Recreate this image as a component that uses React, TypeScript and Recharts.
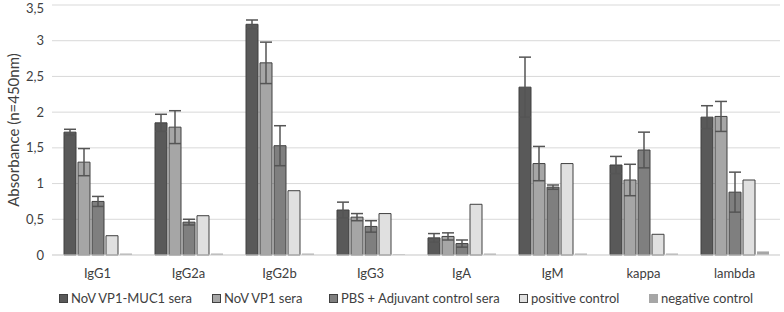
import { BarChart, Bar, XAxis, YAxis, CartesianGrid, Legend, ErrorBar } from 'recharts'

// ── Data ────────────────────────────────────────────────────
const categories = ['IgG1', 'IgG2a', 'IgG2b', 'IgG3', 'IgA', 'IgM', 'kappa', 'lambda']

const mucSera = [1.72, 1.85, 3.23, 0.63, 0.24, 2.35, 1.26, 1.93]
const mucSeraErr = [0.04, 0.12, 0.06, 0.11, 0.06, 0.42, 0.12, 0.16]

const vp1Sera = [1.30, 1.79, 2.69, 0.53, 0.26, 1.28, 1.05, 1.94]
const vp1SeraErr = [0.19, 0.23, 0.29, 0.05, 0.05, 0.24, 0.22, 0.21]

const pbsSera = [0.75, 0.46, 1.53, 0.40, 0.16, 0.95, 1.47, 0.88]
const pbsSeraErr = [0.07, 0.04, 0.28, 0.08, 0.05, 0.03, 0.25, 0.28]

const positiveCtrl = [0.27, 0.55, 0.90, 0.58, 0.71, 1.28, 0.29, 1.05]
const negativeCtrl = [0.02, 0.02, 0.02, 0.01, 0.02, 0.02, 0.02, 0.05]

const yTicks = [0, 0.5, 1, 1.5, 2, 2.5, 3, 3.5]

const data = categories.map((c, i) => ({
  name: c,
  muc: mucSera[i], mucErr: mucSeraErr[i],
  vp1: vp1Sera[i], vp1Err: vp1SeraErr[i],
  pbs: pbsSera[i], pbsErr: pbsSeraErr[i],
  pos: positiveCtrl[i],
  neg: negativeCtrl[i],
}))

const FONT = 'Lato, "Open Sans", sans-serif'

const legendItems = [
  { label: 'NoV VP1-MUC1 sera', fill: '#595959', stroke: '#404040', x: 59 },
  { label: 'NoV VP1 sera', fill: '#a6a6a6', stroke: '#404040', x: 212 },
  { label: 'PBS + Adjuvant control sera', fill: '#7f7f7f', stroke: '#404040', x: 329 },
  { label: 'positive control', fill: '#e0e0e0', stroke: '#404040', x: 519 },
  { label: 'negative control', fill: '#a6a6a6', stroke: 'none', x: 649 },
]

const LegendRow = () => (
  <div style={{ position: 'relative', height: 31, fontFamily: FONT, fontSize: 13, lineHeight: '15px', color: '#404040' }}>
    {legendItems.map(it => (
      <span key={it.label} style={{ position: 'absolute', left: it.x, top: 10, display: 'flex', alignItems: 'center', whiteSpace: 'nowrap' }}>
        <span style={{
          display: 'inline-block', width: 7, height: 7, marginRight: 3,
          background: it.fill, border: it.stroke === 'none' ? '1px solid transparent' : `1px solid ${it.stroke}`,
        }} />
        {it.label}
      </span>
    ))}
  </div>
)

const YLabel = ({ viewBox }: any) => {
  const cy = viewBox.y + viewBox.height / 2
  return (
    <text x={19} y={cy} transform={`rotate(-90, 19, ${cy})`} textAnchor="middle"
      style={{ fill: '#404040', fontSize: 15, fontFamily: FONT }}>
      Absorbance (n=450nm)
    </text>
  )
}

export default function App() {
  return (
    <div style={{ position: 'absolute', left: 0, top: 0, width: 784, height: 312, background: '#fff' }}>
      <BarChart width={784} height={312} data={data} margin={{ top: 5, right: 4, bottom: 0, left: 0 }}
        barSize={12} barGap={2}>
        <CartesianGrid vertical={false} stroke="#d9d9d9" />
        <XAxis dataKey="name" axisLine={{ stroke: '#d9d9d9' }} tickLine={false}
          tick={{ fill: '#404040', fontSize: 13, fontFamily: FONT }} tickMargin={8} height={26} />
        <YAxis domain={[0, 3.5]} ticks={yTicks} axisLine={false} tickLine={false} width={52}
          tickFormatter={v => String(v).replace('.', ',')}
          tick={{ fill: '#404040', fontSize: 13, fontFamily: FONT }}
          label={<YLabel />} />
        <Legend verticalAlign="bottom" height={31} wrapperStyle={{ left: 0, width: 784 }} content={<LegendRow />} />
        <Bar dataKey="muc" fill="#595959" stroke="#404040" strokeWidth={1} isAnimationActive={false}>
          <ErrorBar dataKey="mucErr" width={6} stroke="#555" strokeWidth={1.5} />
        </Bar>
        <Bar dataKey="vp1" fill="#a6a6a6" stroke="#404040" strokeWidth={1} isAnimationActive={false}>
          <ErrorBar dataKey="vp1Err" width={6} stroke="#555" strokeWidth={1.5} />
        </Bar>
        <Bar dataKey="pbs" fill="#7f7f7f" stroke="#404040" strokeWidth={1} isAnimationActive={false}>
          <ErrorBar dataKey="pbsErr" width={6} stroke="#555" strokeWidth={1.5} />
        </Bar>
        <Bar dataKey="pos" fill="#e0e0e0" stroke="#404040" strokeWidth={1} isAnimationActive={false} />
        <Bar dataKey="neg" fill="#a6a6a6" isAnimationActive={false} />
      </BarChart>
    </div>
  )
}
